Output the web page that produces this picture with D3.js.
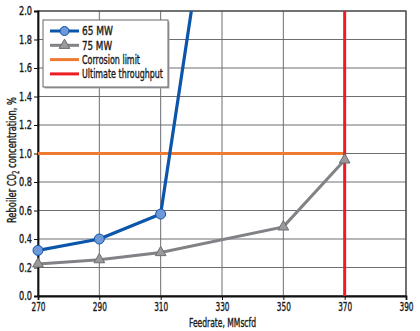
<!DOCTYPE html>
<html>
<head>
<meta charset="utf-8">
<script src="https://cdn.jsdelivr.net/npm/d3@7"></script>
<style>
  html, body { margin: 0; padding: 0; background: #fff; }
  svg { display: block; }
  text { font-family: "DejaVu Sans Condensed", "DejaVu Sans", sans-serif; font-stretch: condensed; fill: #1a1a1a; stroke: #1a1a1a; stroke-width: 0.35px; }
</style>
</head>
<body>
<svg id="chart" width="420" height="331"></svg>
<script>
// Feedrate (MMscfd) vs. reboiler CO2 concentration (%)
const xTicks = [270, 290, 310, 330, 350, 370, 390];
const yTicks = [0, 0.2, 0.4, 0.6, 0.8, 1.0, 1.2, 1.4, 1.6, 1.8, 2.0];

const feed65 = [270, 290, 310];
const co2_65 = [0.32, 0.40, 0.575];
// continuation of the 65 MW curve past the plotted range
const feed65Tail = [310, 320];
const co2_65Tail = [0.575, 2.0];

const feed75 = [270, 290, 310, 350, 370];
const co2_75 = [0.225, 0.255, 0.305, 0.485, 0.955];

const corrosionLimit = 1.0;
const corrosionRange = [270, 370];
const ultimateThroughput = 370;

const legendLabels = ["65 MW", "75 MW", "Corrosion limit", "Ultimate throughput"];

const svg = d3.select("#chart");
const m = { left: 38, right: 14, top: 11, bottom: 35 };
const W = 420, H = 331;

const x = d3.scaleLinear().domain([270, 390]).range([m.left, W - m.right]);
const y = d3.scaleLinear().domain([0, 2.0]).range([H - m.bottom, m.top]);

const colors = {
  blue: "#0b55aa", blueFill: "#6e98d8",
  gray: "#808285", grayFill: "#9a9a9a",
  orange: "#f07a32", red: "#ec1c24"
};

// narrow a text element to a given width (condensed look)
function squeeze(sel, w) {
  sel.attr("textLength", w).attr("lengthAdjust", "spacingAndGlyphs");
}

svg.append("defs").append("clipPath").attr("id", "plotClip")
  .append("rect").attr("x", m.left).attr("y", m.top)
  .attr("width", W - m.left - m.right).attr("height", H - m.top - m.bottom);

// grid
const grid = svg.append("g");
grid.selectAll("line.h").data(yTicks).join("line")
  .attr("x1", m.left).attr("x2", W - m.right)
  .attr("y1", d => y(d)).attr("y2", d => y(d))
  .attr("stroke", "#6d6e71").attr("stroke-width", 1);
grid.selectAll("line.v").data(xTicks).join("line")
  .attr("x1", d => x(d)).attr("x2", d => x(d))
  .attr("y1", m.top).attr("y2", H - m.bottom)
  .attr("stroke", "#6d6e71").attr("stroke-width", 1);

// frame
svg.append("rect").attr("x", m.left).attr("y", m.top)
  .attr("width", W - m.left - m.right).attr("height", H - m.top - m.bottom)
  .attr("fill", "none").attr("stroke", "#444").attr("stroke-width", 1.2);

// axes
const yAxis = svg.append("g").attr("transform", `translate(${m.left},0)`)
  .call(d3.axisLeft(y).tickValues(yTicks).tickFormat(d3.format(".1f")).tickSize(4).tickPadding(2));
const xAxis = svg.append("g").attr("transform", `translate(0,${H - m.bottom})`)
  .call(d3.axisBottom(x).tickValues(xTicks).tickFormat(d3.format("d")).tickSize(4).tickPadding(3));
[yAxis, xAxis].forEach(a => {
  a.select(".domain").attr("stroke", "#111").attr("stroke-width", 1.8);
  a.selectAll(".tick line").attr("stroke", "#111");
  a.selectAll("text").style("font-size", "11.5px").attr("fill", "#1a1a1a")
    .style("font-family", "'DejaVu Sans Condensed', 'DejaVu Sans', sans-serif");
});
yAxis.selectAll(".tick text").call(squeeze, 13);
xAxis.selectAll(".tick text").call(squeeze, 14);

// axis titles
svg.append("text").attr("x", 222.5).attr("y", H - 4.5)
  .attr("text-anchor", "middle").style("font-size", "12px").text("Feedrate, MMscfd")
  .call(squeeze, 67);
const yt = svg.append("text")
  .attr("transform", "translate(16,160) rotate(-90)")
  .attr("text-anchor", "middle").style("font-size", "12.5px");
yt.append("tspan").text("Reboiler CO");
yt.append("tspan").attr("dy", 3).style("font-size", "8px").text("2");
yt.append("tspan").attr("dy", -3).text(" concentration, %");
yt.call(squeeze, 126);

const plot = svg.append("g").attr("clip-path", "url(#plotClip)");
const line = d3.line().x(d => x(d[0])).y(d => y(d[1]));

// limits
plot.append("path")
  .attr("d", line(corrosionRange.map(f => [f, corrosionLimit])))
  .attr("stroke", colors.orange).attr("stroke-width", 3).attr("fill", "none");
plot.append("path")
  .attr("d", line([[ultimateThroughput, 0], [ultimateThroughput, 2.0]]))
  .attr("stroke", colors.red).attr("stroke-width", 3).attr("fill", "none");

// 75 MW
const pts75 = feed75.map((f, i) => [f, co2_75[i]]);
plot.append("path").attr("d", line(pts75))
  .attr("stroke", colors.gray).attr("stroke-width", 3).attr("fill", "none");
const tri = d3.symbol().type(d3.symbolTriangle).size(50);
svg.selectAll("path.m75").data(pts75).join("path").attr("class", "m75")
  .attr("d", tri).attr("transform", d => `translate(${x(d[0])},${y(d[1])})`)
  .attr("fill", colors.grayFill).attr("stroke", "#6d6e71").attr("stroke-width", 1);

// 65 MW
const pts65 = feed65.map((f, i) => [f, co2_65[i]]);
const tail65 = feed65Tail.map((f, i) => [f, co2_65Tail[i]]);
plot.append("path").attr("d", line(pts65.concat(tail65.slice(1))))
  .attr("stroke", colors.blue).attr("stroke-width", 3.2).attr("fill", "none")
  .attr("stroke-linejoin", "round");
svg.selectAll("circle.m65").data(pts65).join("circle").attr("class", "m65")
  .attr("cx", d => x(d[0])).attr("cy", d => y(d[1])).attr("r", 5)
  .attr("fill", colors.blueFill).attr("stroke", colors.blue).attr("stroke-width", 1);

// legend
const lg = svg.append("g").attr("transform", "translate(43,20)");
lg.append("rect").attr("x", 1.5).attr("y", 1.5).attr("width", 125).attr("height", 67).attr("fill", "#aaa");
lg.append("rect").attr("width", 125).attr("height", 67)
  .attr("fill", "#fff").attr("stroke", "#666").attr("stroke-width", 1);
const rows = [
  { c: colors.blue, mk: "circle", w: 31 },
  { c: colors.gray, mk: "tri", w: 30 },
  { c: colors.orange, w: 58 },
  { c: colors.red, w: 81 }
];
const rowY = [11, 25.3, 39.6, 53.9];
rows.forEach((r, i) => {
  const g = lg.append("g").attr("transform", `translate(0,${rowY[i]})`);
  g.append("line").attr("x1", 7).attr("x2", 36).attr("y1", 0).attr("y2", 0)
    .attr("stroke", r.c).attr("stroke-width", 3);
  if (r.mk === "circle") {
    g.append("circle").attr("cx", 21.5).attr("cy", 0).attr("r", 4.5)
      .attr("fill", colors.blueFill).attr("stroke", colors.blue);
  } else if (r.mk === "tri") {
    g.append("path").attr("d", tri).attr("transform", "translate(21.5,0)")
      .attr("fill", colors.grayFill).attr("stroke", "#6d6e71");
  }
  g.append("text").attr("x", 39).attr("y", 4.3).style("font-size", "12px").text(legendLabels[i])
    .call(squeeze, r.w);
});
</script>
</body>
</html>
